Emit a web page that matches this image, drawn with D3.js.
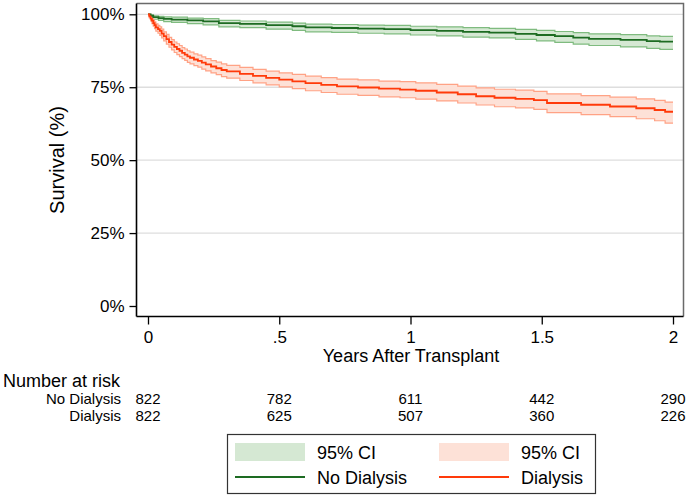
<!DOCTYPE html>
<html>
<head>
<meta charset="utf-8">
<script src="https://cdn.jsdelivr.net/npm/d3@7/dist/d3.min.js"></script>
<style>
  html, body { margin: 0; padding: 0; background: #fff; }
  svg { display: block; font-family: Helvetica, Arial, "Liberation Sans", sans-serif; }
</style>
</head>
<body>
<svg id="chart" width="689" height="498"></svg>
<script>
// ---------- data ----------
const noDialysisTime = [0, 0.01, 0.02, 0.04, 0.06, 0.09, 0.15, 0.21, 0.27, 0.35, 0.45, 0.55, 0.60, 0.70, 0.80, 0.90, 1.00, 1.10, 1.20, 1.30, 1.40, 1.48, 1.55, 1.62, 1.68, 1.80, 1.90, 1.95, 2.0];
const noDialysisSurv = [100, 99.5, 99.0, 98.7, 98.4, 98.2, 97.9, 97.6, 97.0, 96.7, 96.3, 95.9, 95.5, 95.3, 95.1, 94.9, 94.6, 94.3, 94.0, 93.7, 93.3, 92.9, 92.5, 92.0, 91.6, 91.2, 90.8, 90.6, 90.6];
const noDialysisLo   = [100, 99.0, 98.3, 97.9, 97.5, 97.2, 96.8, 96.4, 95.7, 95.4, 94.9, 94.5, 94.0, 93.8, 93.5, 93.3, 92.9, 92.6, 92.2, 91.9, 91.4, 90.9, 90.4, 89.8, 89.3, 88.8, 88.3, 88.0, 88.0];
const noDialysisHi   = [100, 99.8, 99.5, 99.3, 99.1, 99.0, 98.7, 98.5, 97.9, 97.7, 97.3, 97.0, 96.6, 96.5, 96.3, 96.2, 95.9, 95.7, 95.4, 95.2, 94.8, 94.5, 94.1, 93.7, 93.3, 93.0, 92.6, 92.4, 92.4];

const dialysisTime = [0, 0.005, 0.01, 0.015, 0.02, 0.025, 0.03, 0.038, 0.045, 0.052, 0.06, 0.07, 0.08, 0.09, 0.10, 0.11, 0.12, 0.13, 0.14, 0.15, 0.16, 0.175, 0.19, 0.205, 0.22, 0.24, 0.26, 0.28, 0.30, 0.35, 0.40, 0.45, 0.50, 0.55, 0.60, 0.66, 0.72, 0.80, 0.88, 0.96, 1.02, 1.10, 1.18, 1.25, 1.32, 1.40, 1.47, 1.52, 1.65, 1.76, 1.86, 1.93, 1.97, 2.0];
const dialysisSurv = [100, 99.3, 98.5, 97.8, 97.0, 96.3, 95.5, 94.9, 94.3, 93.4, 92.5, 91.5, 90.5, 89.6, 88.8, 88.1, 87.5, 86.8, 86.2, 85.6, 85.1, 84.5, 84.0, 83.4, 82.8, 82.1, 81.5, 80.9, 80.4, 79.6, 78.9, 78.2, 77.6, 77.0, 76.4, 75.8, 75.3, 74.9, 74.5, 74.2, 73.8, 73.2, 72.6, 71.9, 71.4, 71.0, 70.6, 69.6, 69.0, 68.4, 67.8, 67.2, 66.6, 66.6];
const dialysisLo   = [100, 98.8, 97.7, 96.8, 95.9, 95.1, 94.2, 93.5, 92.8, 91.9, 90.9, 89.8, 88.7, 87.8, 86.9, 86.2, 85.5, 84.8, 84.2, 83.5, 83.0, 82.4, 81.9, 81.2, 80.6, 79.9, 79.3, 78.6, 78.1, 77.3, 76.5, 75.8, 75.1, 74.5, 73.8, 73.2, 72.6, 72.2, 71.7, 71.4, 70.9, 70.3, 69.6, 68.9, 68.3, 67.9, 67.4, 66.3, 65.6, 64.9, 64.2, 63.5, 62.7, 62.7];
const dialysisHi   = [100, 99.7, 99.2, 98.7, 98.0, 97.4, 96.7, 96.2, 95.7, 94.9, 94.0, 93.1, 92.1, 91.3, 90.5, 89.9, 89.3, 88.6, 88.1, 87.5, 87.0, 86.4, 86.0, 85.4, 84.8, 84.1, 83.6, 83.0, 82.5, 81.8, 81.1, 80.5, 79.9, 79.4, 78.8, 78.3, 77.8, 77.5, 77.1, 76.9, 76.5, 76.0, 75.4, 74.8, 74.3, 74.0, 73.6, 72.7, 72.1, 71.6, 71.0, 70.5, 69.9, 69.9];

const yTickValues = [0, 25, 50, 75, 100];
const yTickLabels = ["0%", "25%", "50%", "75%", "100%"];
const xTickValues = [0, 0.5, 1, 1.5, 2];
const xTickLabels = ["0", ".5", "1", "1.5", "2"];

const riskGroups = ["No Dialysis", "Dialysis"];
const riskNoDialysis = [822, 782, 611, 442, 290];
const riskDialysis = [822, 625, 507, 360, 226];

const legendLabels = ["95% CI", "No Dialysis", "95% CI", "Dialysis"];

// ---------- styles ----------
const C = {
  greenLine: "#1d6b22", greenFill: "#d5e8d3", greenEdge: "#7fbb7f",
  redLine: "#ff3a0a", redFill: "#fde1d7", redEdge: "#ffa285",
  grid: "#dedede"
};

const svg = d3.select("#chart");
const x = d3.scaleLinear().domain([0, 2]).range([148, 673]);
const y = d3.scaleLinear().domain([0, 100]).range([306, 14.3]);
const plotL = 136.5, plotR = 683.5, plotT = 3.5, plotB = 316.5;

// gridlines
svg.append("g").selectAll("line").data(yTickValues.filter(v => v > 0)).join("line")
  .attr("x1", plotL).attr("x2", plotR)
  .attr("y1", d => y(d)).attr("y2", d => y(d))
  .attr("stroke", C.grid).attr("stroke-width", 1.3);

// frame top/right
svg.append("path")
  .attr("d", `M${plotL},${plotT}H${plotR}V${plotB}`)
  .attr("fill", "none").attr("stroke", "#6a6a6a").attr("stroke-width", 1.5);

function series(t, s, lo, hi) {
  return t.map((d, i) => ({ t: d, s: s[i], lo: lo[i], hi: hi[i] }));
}
const gData = series(noDialysisTime, noDialysisSurv, noDialysisLo, noDialysisHi);
const rData = series(dialysisTime, dialysisSurv, dialysisLo, dialysisHi);

const area = d3.area().curve(d3.curveStepAfter).x(d => x(d.t)).y0(d => y(d.lo)).y1(d => y(d.hi));
const lineS = d3.line().curve(d3.curveStepAfter).x(d => x(d.t)).y(d => y(d.s));
const lineLo = d3.line().curve(d3.curveStepAfter).x(d => x(d.t)).y(d => y(d.lo));
const lineHi = d3.line().curve(d3.curveStepAfter).x(d => x(d.t)).y(d => y(d.hi));

function drawCI(data, fill, edge) {
  svg.append("path").datum(data).attr("d", area).attr("fill", fill);
  svg.append("path").datum(data).attr("d", lineLo).attr("fill", "none").attr("stroke", edge).attr("stroke-width", 1.2);
  svg.append("path").datum(data).attr("d", lineHi).attr("fill", "none").attr("stroke", edge).attr("stroke-width", 1.2);
}
drawCI(gData, C.greenFill, C.greenEdge);
drawCI(rData, C.redFill, C.redEdge);
svg.append("path").datum(gData).attr("d", lineS).attr("fill", "none").attr("stroke", C.greenLine).attr("stroke-width", 1.8);
svg.append("path").datum(rData).attr("d", lineS).attr("fill", "none").attr("stroke", C.redLine).attr("stroke-width", 1.8);

// axes
const yAxis = d3.axisLeft(y).tickValues(yTickValues).tickFormat((d, i) => yTickLabels[i]).tickSize(7).tickPadding(5);
const gy = svg.append("g").attr("transform", `translate(${plotL},0)`).call(yAxis);
gy.select(".domain").attr("d", `M0,${plotT}V${plotB}`).attr("stroke", "#000").attr("stroke-width", 1.6);
gy.selectAll(".tick line").attr("stroke", "#000").attr("stroke-width", 1.3);
gy.selectAll(".tick text").attr("font-size", 17).attr("fill", "#000").attr("font-family", "Helvetica, Arial, 'Liberation Sans', sans-serif");

const xAxis = d3.axisBottom(x).tickValues(xTickValues).tickFormat((d, i) => xTickLabels[i]).tickSize(8).tickPadding(6);
const gx = svg.append("g").attr("transform", `translate(0,${plotB})`).call(xAxis);
gx.select(".domain").attr("d", `M${plotL},0H${plotR}`).attr("stroke", "#000").attr("stroke-width", 1.6);
gx.selectAll(".tick line").attr("stroke", "#000").attr("stroke-width", 1.3);
gx.selectAll(".tick text").attr("font-size", 17).attr("fill", "#000").attr("font-family", "Helvetica, Arial, 'Liberation Sans', sans-serif");

// axis titles
svg.append("text").attr("x", 411).attr("y", 362).attr("text-anchor", "middle")
  .attr("font-size", 18).text("Years After Transplant");
svg.append("text").attr("transform", `translate(64,${(plotT + plotB) / 2}) rotate(-90)`)
  .attr("text-anchor", "middle").attr("font-size", 20).text("Survival (%)");

// number at risk
svg.append("text").attr("x", 3).attr("y", 387).attr("font-size", 18).text("Number at risk");
const riskRows = [riskNoDialysis, riskDialysis];
riskRows.forEach((row, r) => {
  const by = 404 + r * 17;
  svg.append("text").attr("x", 121).attr("y", by).attr("text-anchor", "end").attr("font-size", 15).text(riskGroups[r]);
  svg.append("g").selectAll("text").data(row).join("text")
    .attr("x", (d, i) => x(xTickValues[i])).attr("y", by)
    .attr("text-anchor", "middle").attr("font-size", 15).text(d => d);
});

// legend
const lg = svg.append("g");
lg.append("rect").attr("x", 227.5).attr("y", 434.5).attr("width", 368).attr("height", 59)
  .attr("fill", "#fff").attr("stroke", "#333").attr("stroke-width", 1.2);
const legendItems = [
  { type: "fill", color: C.greenFill, x0: 235, label: legendLabels[0], row: 0 },
  { type: "line", color: C.greenLine, x0: 235, label: legendLabels[1], row: 1 },
  { type: "fill", color: C.redFill, x0: 439, label: legendLabels[2], row: 0 },
  { type: "line", color: C.redLine, x0: 439, label: legendLabels[3], row: 1 }
];
legendItems.forEach(it => {
  const cy = it.row === 0 ? 452 : 477;
  if (it.type === "fill") {
    lg.append("rect").attr("x", it.x0).attr("y", cy - 9).attr("width", 70).attr("height", 18).attr("fill", it.color);
  } else {
    lg.append("line").attr("x1", it.x0).attr("x2", it.x0 + 70).attr("y1", cy).attr("y2", cy)
      .attr("stroke", it.color).attr("stroke-width", 1.8);
  }
  lg.append("text").attr("x", it.x0 + 82).attr("y", cy + 6.5).attr("font-size", 18).text(it.label);
});
</script>
</body>
</html>
